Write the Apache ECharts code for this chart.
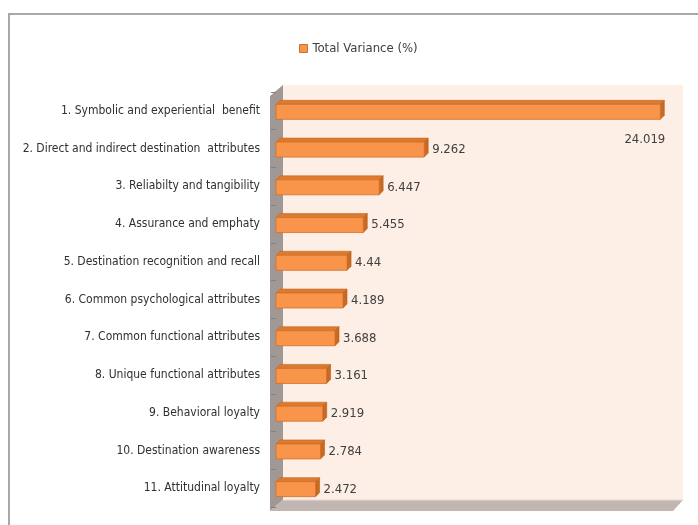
<!DOCTYPE html>
<html>
<head>
<meta charset="utf-8">
<script src="https://cdn.jsdelivr.net/npm/echarts@6/dist/echarts.min.js"></script>
<style>
  html, body { margin: 0; padding: 0; background: #ffffff; }
  #chart { width: 698px; height: 525px; }
</style>
</head>
<body>
<div id="chart"></div>
<script>
var categories = [
  '1. Symbolic and experiential  benefit',
  '2. Direct and indirect destination  attributes',
  '3. Reliabilty and tangibility',
  '4. Assurance and emphaty',
  '5. Destination recognition and recall',
  '6. Common psychological attributes',
  '7. Common functional attributes',
  '8. Unique functional attributes',
  '9. Behavioral loyalty',
  '10. Destination awareness',
  '11. Attitudinal loyalty'
];
var values = [24.019, 9.262, 6.447, 5.455, 4.44, 4.189, 3.688, 3.161, 2.919, 2.784, 2.472];
var valueLabels = ['24.019', '9.262', '6.447', '5.455', '4.44', '4.189', '3.688', '3.161', '2.919', '2.784', '2.472'];
var seriesName = 'Total Variance (%)';

var FONT = "'Liberation Sans Narrow', 'DejaVu Sans Condensed', 'Noto Sans', sans-serif";
var G = { left: 276, right: 22, top: 92, bottom: 18 };
var D = 7; // depth of 3D walls
var chart = echarts.init(document.getElementById('chart'));

function renderBar(params, api) {
  var idx = api.value(0);
  var val = api.value(1);
  var p0 = api.coord([0, idx]);
  var p1 = api.coord([val, idx]);
  var h = 15, d = 4;
  var yc = p0[1] + 1;
  var yt = yc - h / 2, yb = yc + h / 2;
  var x0 = p0[0], x1 = p1[0];
  var cs = params.coordSys;
  var label = valueLabels[idx];
  var overflow = (x1 + d + 6 + 36) > (cs.x + cs.width + 10);
  var textEl = overflow ? {
    type: 'text',
    style: { x: x1 + 5, y: yc + 28, text: label, align: 'right', verticalAlign: 'middle',
      fill: '#404040', font: '13px ' + FONT }
  } : {
    type: 'text',
    style: { x: x1 + d + 4, y: yc, text: label, align: 'left', verticalAlign: 'middle',
      fill: '#404040', font: '13px ' + FONT }
  };
  return {
    type: 'group',
    children: [
      { type: 'polygon', shape: { points: [[x0, yt], [x1, yt], [x1 + d, yt - d], [x0 + d, yt - d]] },
        style: { fill: '#dc7a30', stroke: '#c8681f', lineWidth: 0.6 } },
      { type: 'polygon', shape: { points: [[x1, yt], [x1 + d, yt - d], [x1 + d, yb - d], [x1, yb]] },
        style: { fill: '#c86a22', stroke: '#b85e1c', lineWidth: 0.6 } },
      { type: 'rect', shape: { x: x0, y: yt, width: x1 - x0, height: h },
        style: { fill: '#f9954a', stroke: '#d2702a', lineWidth: 0.8 } },
      textEl
    ]
  };
}

var data = values.map(function (v, i) { return [i, v]; });

chart.setOption({
  backgroundColor: '#ffffff',
  animation: false,
  legend: {
    data: [{ name: seriesName, icon: 'rect' }],
    left: 294, top: 37,
    itemWidth: 8, itemHeight: 8, itemGap: 3,
    itemStyle: { color: '#f79646', borderColor: '#d2702a', borderWidth: 1 },
    textStyle: { fontFamily: FONT, fontSize: 13, color: '#404040' }
  },
  grid: { left: G.left, right: G.right, top: G.top, bottom: G.bottom, containLabel: false },
  xAxis: { type: 'value', min: 0, max: 25, show: false, splitLine: { show: false } },
  yAxis: {
    type: 'category', data: categories, inverse: true, offset: 6,
    axisLine: { show: false },
    axisTick: { show: true, length: 5, lineStyle: { color: '#808080' } },
    axisLabel: { margin: 10, fontFamily: FONT, fontSize: 12, color: '#303030' },
    splitLine: { show: false }
  },
  graphic: [
    { type: 'rect', z: -10, shape: { x: 9, y: 14, width: 700, height: 530 },
      style: { fill: '#ffffff', stroke: '#a8a8a8', lineWidth: 2 } },
    // back wall
    { type: 'rect', z: -5, shape: { x: G.left + D, y: G.top - D, width: 698 - G.right - G.left, height: 525 - G.bottom - G.top },
      style: { fill: '#fdeee6' } },
    // left side wall
    { type: 'polygon', z: -4, shape: { points: [[G.left - 6, G.top + 4], [G.left + D, G.top - D], [G.left + D, 525 - G.bottom - D], [G.left - 6, 525 - G.bottom + 4]] },
      style: { fill: '#a09894' } },
    // floor
    { type: 'polygon', z: -3, shape: { points: [[G.left + D, 525 - G.bottom - D], [698 - G.right + D, 525 - G.bottom - D], [698 - G.right - 3, 525 - G.bottom + 4], [G.left - 6, 525 - G.bottom + 4]] },
      style: { fill: '#c2b6b2' } },
    { type: 'line', z: -2, shape: { x1: G.left + D, y1: 525 - G.bottom - D, x2: 698 - G.right + D, y2: 525 - G.bottom - D },
      style: { stroke: '#e8dcd6', lineWidth: 1 } }
  ],
  series: [{
    name: seriesName,
    type: 'custom',
    renderItem: renderBar,
    itemStyle: { color: '#f79646' },
    encode: { x: 1, y: 0 },
    data: data,
    z: 5
  }]
});
</script>
</body>
</html>
